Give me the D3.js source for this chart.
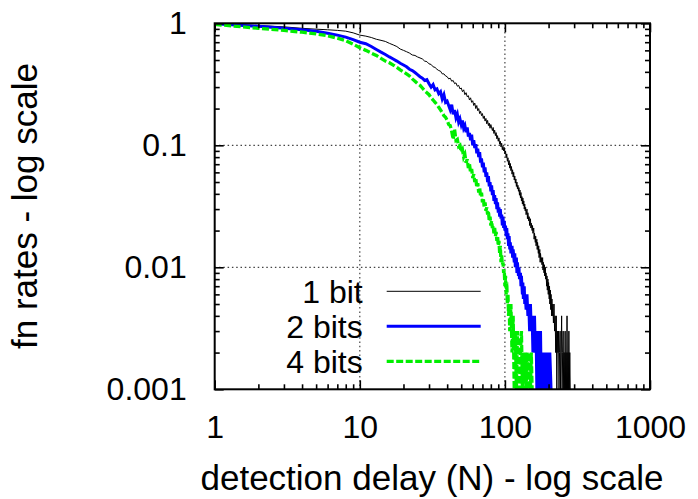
<!DOCTYPE html>
<html>
<head>
<meta charset="utf-8">
<script src="https://cdn.jsdelivr.net/npm/d3@7"></script>
<style>
  body { margin: 0; background: #fff; }
  text { font-family: "Liberation Sans", Arial, sans-serif; fill: #000; }
</style>
</head>
<body>
<div id="chart"></div>
<script>
// fn rate vs detection delay: [delay N, rate]
const oneBit = [
  [1,.99],[2,.96],[3,.935],[4,.91],[5,.895],[6,.885],[7,.875],[8,.862],[9,.835],[10,.80],
  [11,.785],[12,.765],[13,.74],[14,.725],[15,.71],[16,.685],[17,.665],[18,.645],[19,.615],[20,.60],
  [21,.585],[22,.57],[23,.55],[24,.545],[25,.53],[26,.52],[27,.51],[28,.49],[29,.485],[30,.465],
  [31,.46],[32,.44],[33,.435],[34,.42],[35,.41],[36,.405],[37,.385],[38,.385],[39,.37],[40,.365],
  [41,.35],[42,.355],[43,.335],[44,.34],[45,.32],[46,.325],[47,.305],[48,.31],[49,.29],[50,.295],
  [51,.275],[52,.285],[53,.26],[54,.27],[55,.25],[56,.255],[57,.235],[58,.245],[59,.225],[60,.232],
  [61,.212],[62,.222],[63,.2],[64,.212],[65,.192],[66,.2],[67,.182],[68,.19],[69,.175],[70,.182],
  [71,.166],[72,.174],[73,.158],[74,.166],[75,.15],[76,.16],[77,.145],[78,.152],[79,.138],[80,.148],
  [82,.132],[83,.14],[84,.125],[85,.133],[86,.12],[87,.127],[88,.113],[89,.12],[90,.108],[91,.115],
  [92,.102],[93,.108],[94,.097],[95,.104],[96,.092],[97,.098],[98,.09],[99,.096],[100,.085],[101,.09],
  [102,.079],[103,.085],[104,.074],[105,.079],[106,.069],[107,.075],[108,.065],[109,.071],[110,.062],[111,.067],
  [112,.058],[113,.063],[114,.055],[115,.06],[116,.052],[117,.056],[118,.049],[119,.053],[120,.046],[121,.05],
  [122,.044],[123,.047],[124,.042],[125,.045],[126,.039],[127,.043],[128,.037],[129,.041],[130,.035],[131,.038],
  [132,.033],[133,.037],[134,.032],[135,.035],[136,.03],[137,.033],[138,.029],[139,.031],[140,.027],[142,.03],
  [143,.025],[144,.028],[146,.024],[147,.026],[148,.022],[150,.025],[151,.021],[152,.023],[154,.02],[155,.022],
  [156,.019],[158,.021],[159,.017],[160,.019],[162,.016],[163,.018],[164,.015],[166,.017],[167,.014],[168,.016],
  [170,.013],[171,.015],[172,.012],[174,.014],[175,.011],[176,.013],[178,.011],[179,.012],[180,.0105],[182,.012],
  [183,.0095],[184,.011],[186,.009],[187,.0105],[188,.0085],[190,.01],[191,.008],[192,.009],[194,.007],[195,.0085],
  [196,.0065],[198,.008],[199,.006],[200,.0075],[202,.0055],[203,.007],[204,.005],[206,.0065],[207,.0045],[208,.006],
  [210,.004],[211,.0055],[212,.004],[214,.005],[216,.0035],[218,.005],[220,.003],[222,.004],[224,.002],[226,.004],
  [228,.001],[230,.003],[232,.002],[234,.003],[236,.001],[238,.002],[240,.003],[242,.001],[244,.002],[246,.004],
  [248,.001],[250,.002],[252,.003],[254,.001],[256,.002],[258,.001],[260,.003],[262,.001],[264,.002],[266,.001],
  [268,.004],[270,.001],[272,.002],[274,.001],[276,.003],[278,.001],[280,.002],[282,.001],[284,.001]
];

const twoBits = [
  [1,.99],[2,.945],[3,.91],[4,.885],[5,.86],[6,.83],[7,.80],[8,.77],[9,.735],[10,.70],
  [11,.68],[12,.645],[13,.61],[14,.58],[15,.555],[16,.53],[17,.51],[18,.49],[19,.47],[20,.455],
  [21,.44],[22,.42],[23,.41],[24,.395],[25,.38],[26,.365],[27,.355],[28,.34],[29,.345],[30,.32],
  [31,.30],[32,.315],[33,.285],[34,.29],[35,.265],[36,.275],[37,.24],[38,.26],[39,.225],[40,.23],
  [42,.195],[43,.215],[44,.18],[45,.195],[46,.168],[47,.18],[48,.155],[49,.165],[50,.148],[51,.16],
  [52,.138],[53,.145],[54,.128],[55,.14],[56,.118],[57,.126],[58,.11],[59,.122],[60,.1],[61,.11],
  [62,.095],[63,.102],[64,.086],[65,.094],[66,.08],[67,.088],[68,.072],[69,.078],[70,.066],[71,.072],
  [72,.06],[73,.066],[74,.055],[75,.06],[76,.05],[77,.056],[78,.046],[79,.05],[80,.042],[81,.047],
  [82,.039],[83,.043],[84,.035],[85,.039],[86,.033],[87,.037],[88,.03],[89,.034],[90,.028],[91,.031],
  [92,.026],[93,.03],[94,.025],[95,.027],[96,.022],[97,.026],[98,.021],[99,.024],[100,.02],[101,.022],
  [102,.018],[103,.021],[104,.017],[105,.019],[106,.015],[107,.018],[108,.014],[109,.016],[110,.013],[112,.015],
  [113,.012],[114,.014],[116,.011],[117,.013],[118,.01],[120,.012],[121,.009],[122,.011],[124,.0085],[125,.01],
  [126,.008],[128,.009],[129,.007],[130,.0085],[132,.006],[133,.0075],[134,.0055],[136,.007],[137,.005],[138,.006],
  [140,.0045],[142,.006],[144,.004],[146,.005],[148,.003],[150,.005],[152,.003],[154,.004],[156,.002],[158,.003],
  [160,.004],[162,.002],[164,.003],[166,.001],[168,.003],[170,.002],[172,.001],[174,.002],[176,.003],[178,.001],
  [180,.002],[182,.001],[184,.002],[186,.001],[188,.002],[190,.001],[192,.001],[194,.002],[196,.001],[198,.002],
  [200,.001],[204,.002],[208,.001],[212,.001]
];

const fourBits = [
  [1,.98],[2,.91],[3,.875],[4,.845],[5,.82],[6,.79],[7,.755],[8,.72],[9,.675],[10,.63],
  [11,.60],[12,.57],[13,.545],[14,.515],[15,.49],[16,.475],[17,.455],[18,.435],[19,.415],[20,.40],
  [21,.385],[22,.37],[23,.35],[24,.335],[25,.32],[26,.31],[27,.295],[28,.28],[29,.27],[30,.26],
  [31,.245],[32,.235],[33,.225],[34,.215],[35,.205],[36,.195],[37,.185],[38,.175],[39,.17],[40,.16],
  [41,.148],[42,.145],[43,.13],[44,.112],[45,.135],[46,.11],[47,.112],[48,.098],[49,.1],[50,.088],
  [51,.092],[52,.08],[53,.084],[54,.072],[55,.077],[56,.065],[57,.07],[58,.06],[59,.064],[60,.054],
  [61,.058],[62,.05],[63,.054],[64,.045],[65,.049],[66,.041],[67,.045],[68,.038],[69,.041],[70,.034],
  [71,.037],[72,.031],[73,.034],[74,.029],[75,.031],[76,.027],[77,.029],[78,.024],[79,.026],[80,.022],
  [81,.024],[82,.021],[83,.022],[84,.019],[85,.021],[86,.018],[87,.0195],[88,.0165],[89,.018],[90,.015],
  [91,.0165],[92,.013],[93,.015],[94,.011],[95,.0125],[96,.0105],[97,.011],[98,.009],[99,.0095],[100,.007],
  [101,.0085],[102,.006],[103,.0075],[104,.005],[105,.006],[106,.004],[107,.005],[108,.003],[110,.005],[112,.002],
  [114,.004],[116,.001],[118,.003],[120,.001],[122,.003],[124,.002],[126,.001],[128,.002],[130,.003],[132,.001],
  [134,.002],[136,.001],[138,.002],[140,.001],[142,.002],[144,.001],[146,.001],[148,.002],[150,.001],[152,.002],
  [154,.001],[156,.001]
];

const seriesNames = ["1 bit", "2 bits", "4 bits"];
const seriesData = [oneBit, twoBits, fourBits];
const xMajor = [1, 10, 100, 1000];
const yMajor = [0.001, 0.01, 0.1, 1];
const xLabels = ["1", "10", "100", "1000"];
const yLabels = ["0.001", "0.01", "0.1", "1"];

// line styles per series
const styles = [
  { color: "#000000", width: 1, dash: null },
  { color: "#0000ff", width: 3, dash: null },
  { color: "#00ee00", width: 3.3, dash: "7,2.5" },
];

const margin = { top: 23.3, right: 48, bottom: 109.7, left: 214.7 };
const width = 698 - margin.left - margin.right;
const height = 499 - margin.top - margin.bottom;

const svg = d3
  .select("#chart")
  .append("svg")
  .attr("width", 698)
  .attr("height", 499);

const g = svg.append("g").attr("transform", `translate(${margin.left}, ${margin.top})`);

const x = d3.scaleLog().domain([1, 1000]).range([0, width]);
const y = d3.scaleLog().domain([0.001, 1]).range([height, 0]);

const minorOf = (majors) =>
  majors.slice(0, -1).flatMap((m) => d3.range(2, 10).map((k) => k * m));
const xMinor = minorOf(xMajor);
const yMinor = minorOf(yMajor);

// grid
const gridX = xMajor.slice(1, -1);
const gridY = yMajor.slice(1, -1);
g.append("g")
  .selectAll("line")
  .data(gridX)
  .join("line")
  .attr("x1", (d) => x(d)).attr("x2", (d) => x(d))
  .attr("y1", 0).attr("y2", height)
  .attr("stroke", "#444").attr("stroke-width", 1.2).attr("stroke-dasharray", "1.5,2.8");
g.append("g")
  .selectAll("line")
  .data(gridY)
  .join("line")
  .attr("y1", (d) => y(d)).attr("y2", (d) => y(d))
  .attr("x1", 0).attr("x2", width)
  .attr("stroke", "#444").attr("stroke-width", 1.2).attr("stroke-dasharray", "1.5,2.8");

// clipped data lines
g.append("clipPath").attr("id", "clip")
  .append("rect").attr("width", width).attr("height", height);

const line = d3.line().x((d) => x(d[0])).y((d) => y(d[1]));

g.append("g")
  .attr("clip-path", "url(#clip)")
  .selectAll("path")
  .data(seriesData)
  .join("path")
  .attr("d", line)
  .attr("fill", "none")
  .attr("stroke", (d, i) => styles[i].color)
  .attr("stroke-width", (d, i) => styles[i].width)
  .attr("stroke-dasharray", (d, i) => styles[i].dash);

// axes with inward ticks on all four sides
function addAxis(axisFn, values, size, transform, labels) {
  const axis = axisFn
    .tickValues(values)
    .tickSizeInner(-size)
    .tickSizeOuter(0)
    .tickFormat((d, i) => (labels ? labels[i] : ""));
  const a = g.append("g").attr("transform", transform).call(axis);
  a.select(".domain").remove();
  a.selectAll(".tick line").attr("stroke", "#000").attr("stroke-width", 1.6);
  a.selectAll("text").style("font-size", "32px").attr("fill", "#000");
  return a;
}

addAxis(d3.axisBottom(x).tickPadding(26), xMajor, 9, `translate(0, ${height})`, xLabels);
addAxis(d3.axisBottom(x), xMinor, 5, `translate(0, ${height})`, null);
addAxis(d3.axisTop(x), xMajor, 9, "translate(0, 0)", null);
addAxis(d3.axisTop(x), xMinor, 5, "translate(0, 0)", null);
addAxis(d3.axisLeft(y).tickPadding(28), yMajor, 9, "translate(0, 0)", yLabels);
addAxis(d3.axisLeft(y), yMinor, 5, "translate(0, 0)", null);
addAxis(d3.axisRight(y), yMajor, 9, `translate(${width}, 0)`, null);
addAxis(d3.axisRight(y), yMinor, 5, `translate(${width}, 0)`, null);

// frame
g.append("rect")
  .attr("width", width)
  .attr("height", height)
  .attr("fill", "none")
  .attr("stroke", "#000")
  .attr("stroke-width", 2);

// axis titles
svg.append("text")
  .attr("x", 432)
  .attr("y", 490)
  .attr("text-anchor", "middle")
  .style("font-size", "35px")
  .text("detection delay (N) - log scale");

svg.append("text")
  .attr("transform", "translate(37, 206) rotate(-90)")
  .attr("text-anchor", "middle")
  .style("font-size", "35px")
  .text("fn rates - log scale");

// legend
const legend = g.append("g").attr("transform", "translate(148, 268)");
seriesNames.forEach((name, i) => {
  const row = legend.append("g").attr("transform", `translate(0, ${i * 35})`);
  row.append("text")
    .attr("x", 0)
    .attr("y", 0)
    .attr("dy", "0.36em")
    .attr("text-anchor", "end")
    .style("font-size", "32px")
    .text(name);
  row.append("line")
    .attr("x1", 24).attr("x2", 118)
    .attr("y1", 0).attr("y2", 0)
    .attr("stroke", styles[i].color)
    .attr("stroke-width", styles[i].width)
    .attr("stroke-dasharray", styles[i].dash);
});
</script>
</body>
</html>
